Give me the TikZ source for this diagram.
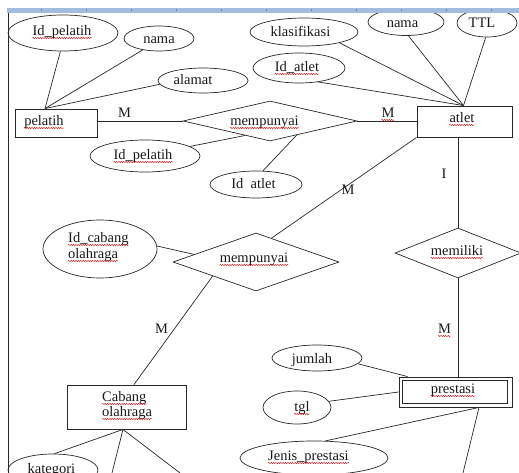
\documentclass[tikz,border=0pt]{standalone}
\usepackage{fontspec}
\setmainfont{Liberation Serif}
\usetikzlibrary{shapes.geometric,decorations.pathmorphing}
\definecolor{rulerblue}{RGB}{160,188,222}
\definecolor{tickblue}{RGB}{110,130,160}
\definecolor{inkgray}{RGB}{40,40,40}
\begin{document}
\begin{tikzpicture}[x=1pt,y=-1pt,
  ln/.style={draw=inkgray, line width=0.7pt},
  attr/.style={ellipse, draw=inkgray, line width=0.7pt, inner sep=0pt},
  ent/.style={rectangle, draw=inkgray, line width=0.9pt, inner sep=0pt},
  rel/.style={diamond, draw=inkgray, line width=0.7pt, inner sep=0pt},
  txt/.style={inner sep=0pt, text height=10pt, text depth=3pt, font=\fontsize{14.5pt}{16pt}\selectfont, text=black!90},
  squig/.style={draw=red!80!black, line width=0.45pt, decorate, decoration={snake, amplitude=0.55pt, segment length=2.4pt}}]
\useasboundingbox (0,0) rectangle (519,473);
\clip (0,0) rectangle (519,473);
% shapes
\node[attr, minimum width=110pt, minimum height=36pt] (ip1) at (63,33) {};
\node[attr, minimum width=70pt, minimum height=25pt] (nm1) at (159,38.5) {};
\node[attr, minimum width=90pt, minimum height=25pt] (al) at (203,80.5) {};
\node[ent, minimum width=82pt, minimum height=28pt] (pel) at (56,123) {};
\node[rel, minimum width=174pt, minimum height=40pt] (r1) at (270,121) {};
\node[attr, minimum width=110pt, minimum height=32pt] (ip2) at (145,156) {};
\node[attr, minimum width=92pt, minimum height=27pt] (ia2) at (256,184.5) {};
\node[attr, minimum width=108pt, minimum height=28pt] (kl) at (304,32) {};
\node[attr, minimum width=76pt, minimum height=27pt] (nm2) at (406,22) {};
\node[attr, minimum width=60pt, minimum height=28pt] (ttl) at (487,23) {};
\node[attr, minimum width=92pt, minimum height=30pt] (ia1) at (299,68) {};
\node[ent, minimum width=95pt, minimum height=31pt] (at) at (464.5,121.5) {};
\node[rel, minimum width=126pt, minimum height=50pt] (mem) at (458,253) {};
\node[rel, minimum width=166pt, minimum height=58pt] (r2) at (256,262) {};
\node[attr, minimum width=114pt, minimum height=58pt] (ic) at (100,249) {};
\node[ent, minimum width=119pt, minimum height=44pt] (cab) at (126.5,407) {};
\node[attr, minimum width=90pt, minimum height=32pt] (kat) at (53,470) {};
\node[ent, minimum width=113pt, minimum height=30pt] (pr) at (455.5,392) {};
\draw[inkgray, line width=0.8pt] ([xshift=4pt,yshift=-4pt]pr.north west) rectangle ([xshift=-5pt,yshift=4pt]pr.south east);
\node[attr, minimum width=90pt, minimum height=26pt] (ju) at (317,358) {};
\node[attr, minimum width=68pt, minimum height=33pt] (tg) at (297,407.5) {};
\node[attr, minimum width=148pt, minimum height=34pt] (jp) at (314,458) {};
\coordinate (cb1) at (112,473);
\coordinate (cb2) at (180,473);
\coordinate (pb) at (463,473);
% connectors
\draw[ln] (ip1.262) -- ([xshift=-11pt]pel.north);
\draw[ln] (nm1.215) -- ([xshift=-11pt]pel.north);
\draw[ln] (al.185) -- ([xshift=-11pt]pel.north);
\draw[ln] (r1.west) -- (r1.west -| pel.east);
\draw[ln] (r1.east) -- (r1.east -| at.west);
\draw[ln] (ip2.12) -- (r1.210);
\draw[ln] (ia2.63) -- (r1.332);
\draw[ln] (kl.-17) -- ([xshift=-1pt]at.north);
\draw[ln] (nm2.-80) -- ([xshift=-1pt]at.north);
\draw[ln] (ttl.265) -- ([xshift=-1pt]at.north);
\draw[ln] (ia1.-36) -- ([xshift=-1pt]at.north);
\draw[ln] (mem.north |- at.south) -- (mem.north);
\draw[ln] (at.south west) -- (r2.57);
\draw[ln] (ic.3) -- (r2.173);
\draw[ln] (r2.198) -- ([xshift=7.5pt]cab.north);
\draw[ln] ([xshift=-3.5pt]cab.south) -- (kat.85);
\draw[ln] ([xshift=-3.5pt]cab.south) -- (cb1);
\draw[ln] ([xshift=-3.5pt]cab.south) -- (cb2);
\draw[ln] (mem.south) -- (mem.south |- pr.north);
\draw[ln] (ju.-8) -- ([xshift=9pt]pr.north west);
\draw[ln] (tg.11) -- (pr.west);
\draw[ln] (jp.56) -- ([xshift=23.5pt]pr.south);
\draw[ln] ([xshift=23.5pt]pr.south) -- (pb);
% texts
\node[txt] (tip1) at (62,32) {Id\_pelatih};
\node[txt] (tnm1) at (159,40) {nama};
\node[txt] (tal) at (193,81) {alamat};
\node[txt] (tpel) at (44,122) {pelatih};
\node[txt] (lM1) at (124.5,114) {M};
\node[txt] (tip2) at (143,156) {Id\_pelatih};
\node[txt] (tr1) at (264.5,122) {mempunyai};
\node[txt] (tia2) at (253.5,185) {Id\enspace atlet};
\node[txt] (tkl) at (300.5,33) {klasifikasi};
\node[txt] (tnm2) at (402.5,24) {nama};
\node[txt] (tttl) at (482,24) {TTL};
\node[txt] (tia1) at (297,68) {Id\_atlet};
\node[txt] (lM2) at (388,114) {M};
\node[txt] (tat) at (462,119) {atlet};
\node[txt] (lI) at (444,175) {I};
\node[txt] (lM3) at (348,191) {M};
\node[txt, anchor=west] (tic1) at (68,239) {Id\_cabang};
\node[txt, anchor=west] (tic2) at (68,255) {olahraga};
\node[txt] (tr2) at (254,259) {mempunyai};
\node[txt] (lM4) at (161.5,330) {M};
\node[txt, anchor=west] (tcab1) at (102,398) {Cabang};
\node[txt, anchor=west] (tcab2) at (102,413) {olahraga};
\node[txt] (tkat) at (51.5,470) {kategori};
\node[txt] (tmem) at (457,252) {memiliki};
\node[txt] (lM5) at (444.5,330) {M};
\node[txt] (tpr) at (453,390) {prestasi};
\node[txt] (tju) at (312,360) {jumlah};
\node[txt] (ttg) at (302,408) {tgl};
\node[txt] (tjp) at (308.5,457) {Jenis\_prestasi};
% spell-check squiggles
\foreach \n in {tip1,tpel,tip2,tr1,tia1,lM2,tat,tic1,tic2,tr2,tcab1,tcab2,tmem,lM5,tpr,ttg,tjp}
  \draw[squig] ([yshift=-2.5pt]\n.base west) -- ([yshift=-2.5pt]\n.base east);
% ruler and margin line
\fill[rulerblue] (7,8) rectangle (519,13.5);
\foreach \x in {41,86,...,491}
  \draw[tickblue, line width=0.6pt] (\x,9.5) -- (\x,11.5);
\draw[inkgray, line width=0.8pt] (8,13.5) -- (8,473);
\end{tikzpicture}
\end{document}
